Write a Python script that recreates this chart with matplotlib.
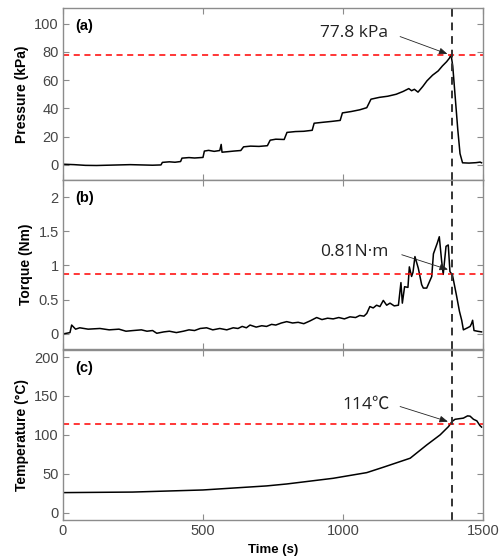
import numpy as np
import matplotlib
matplotlib.use("Agg")
import matplotlib.pyplot as plt

plt.rcParams['font.family'] = ['Liberation Sans', 'DejaVu Sans']

# pressure trace (s, kPa)
p_t = [0, 40, 80, 120, 160, 200, 240, 280, 320, 350, 355, 380, 400, 420, 425, 450, 470,
       500, 505, 520, 540, 560, 565, 568, 590, 610, 635, 645, 670, 700, 730, 740, 760,
       790, 800, 830, 860, 890, 897, 930, 960, 990, 998, 1030, 1060, 1085, 1100, 1130,
       1160, 1190, 1215, 1235, 1245, 1255, 1268, 1285, 1300, 1320, 1340, 1355, 1370,
       1380, 1386, 1392, 1400, 1410, 1418, 1427, 1450, 1475, 1490, 1495]
p_v = [0.5, 0.2, -0.3, -0.4, -0.2, 0.0, 0.2, 0.0, -0.2, 0.0, 1.8, 2.2, 1.9, 2.4, 4.8, 5.2,
       4.9, 5.3, 9.8, 10.3, 9.6, 10.2, 14.5, 9.0, 9.4, 9.8, 10.2, 12.8, 13.3, 13.1, 13.6,
       17.5, 18.2, 18.0, 23.0, 23.6, 23.8, 24.5, 29.5, 30.2, 30.8, 31.5, 36.8, 37.8, 39.0,
       40.5, 46.5, 47.8, 48.6, 50.0, 52.0, 54.0, 52.5, 53.5, 51.5, 55.5, 59.5, 63.5, 66.5,
       70.0, 73.0, 75.5, 78.0, 70.0, 50.0, 25.0, 8.0, 1.5, 1.3, 1.6, 2.0, 1.5]

# torque trace (s, Nm), panel (b)
q_t = [0, 25, 31, 45, 60, 90, 132, 165, 200, 225, 251, 280, 300, 320, 335, 360, 380, 405,
       430, 450, 470, 490, 513, 535, 560, 585, 608, 625, 640, 655, 668, 690, 710, 727, 745,
       760, 780, 799, 820, 840, 860, 882, 906, 925, 945, 965, 985, 1005, 1025, 1045, 1060,
       1075, 1085, 1096, 1108, 1120, 1132, 1144, 1156, 1168, 1183, 1198,
       1207, 1212, 1220, 1232, 1237, 1245, 1250, 1257, 1269, 1281, 1287, 1299, 1317, 1323,
       1337, 1344, 1352, 1358, 1368, 1376, 1382, 1391, 1405, 1416, 1424, 1430, 1445, 1454,
       1459, 1463, 1468, 1480, 1495]
q_v = [0.0, 0.02, 0.13, 0.07, 0.09, 0.07, 0.08, 0.06, 0.07, 0.04, 0.05, 0.06, 0.04, 0.05,
       0.01, 0.03, 0.04, 0.02, 0.04, 0.06, 0.05, 0.08, 0.09, 0.06, 0.08, 0.06, 0.09, 0.08,
       0.11, 0.09, 0.13, 0.10, 0.12, 0.11, 0.14, 0.13, 0.16, 0.18, 0.16, 0.17, 0.15, 0.19,
       0.24, 0.21, 0.23, 0.22, 0.24, 0.22, 0.25, 0.24, 0.27, 0.26, 0.30, 0.40, 0.38, 0.42,
       0.40, 0.49, 0.42, 0.45, 0.41, 0.42, 0.75, 0.45, 0.69, 0.68, 0.98, 0.84, 0.90, 1.13,
       0.96, 0.72, 0.67, 0.67, 0.84, 1.17, 1.33, 1.42, 1.08, 0.87, 1.28, 1.30, 0.91, 0.86,
       0.57, 0.33, 0.20, 0.06, 0.09, 0.11, 0.15, 0.20, 0.05, 0.04, 0.03]

# temperature trace (s, degC), panel (c)
c_t = [0, 248, 500, 727, 799, 965, 1085, 1144, 1240, 1299, 1347, 1377, 1389, 1400, 1430,
       1445, 1454, 1466, 1478, 1489, 1495]
c_v = [25.8, 26.5, 29.2, 34.4, 36.9, 44.2, 51.5, 58.4, 70.0, 87.0, 100.0, 110.7, 117.0,
       120.0, 121.5, 124.4, 124.0, 120.0, 118.0, 112.0, 110.0]

t_cut = 1388
refs = [78, 0.88, 114]
notes = ["77.8 kPa", "0.81N·m", "114℃"]
tags = ["(a)", "(b)", "(c)"]
ylabels = ["Pressure (kPa)", "Torque (Nm)", "Temperature (°C)"]
yticks = [[0, 20, 40, 60, 80, 100], [0, 0.5, 1, 1.5, 2], [0, 50, 100, 150, 200]]
yticklabels = [["0", "20", "40", "60", "80", "100"], ["0", "0.5", "1", "1.5", "2"],
               ["0", "50", "100", "150", "200"]]
ylims = [(-10.6, 111), (-0.22, 2.25), (-9.4, 209)]
xticks = [0, 500, 1000, 1500]

# annotation text centre, arrow tail, arrow tip (data coords)
note_xy = [(1039, 93.6), (1039, 1.19), (1081, 138.6)]
tail_xy = [(1204, 90.8), (1210, 1.157), (1204, 136.4)]
tip_xy = [(1373, 78.5), (1375, 0.94), (1375, 117)]

fig = plt.figure(figsize=(5.03, 5.57), dpi=100)
boxes = [[0.1252, 0.677, 0.835, 0.3086], [0.1252, 0.3734, 0.835, 0.3036],
         [0.1252, 0.0664, 0.835, 0.3052]]
series = [(p_t, p_v), (q_t, q_v), (c_t, c_v)]

edge = '#8c8c8c'
for i in range(3):
    ax = fig.add_axes(boxes[i])
    t, v = series[i]
    ax.plot(t, v, color='black', lw=1.1)
    ax.axhline(refs[i], color='red', ls=(0, (4, 3)), lw=1.1)
    ax.axvline(t_cut, color='#333333', ls=(0, (4, 3)), lw=1.4)
    ax.set_xlim(0, 1500)
    ax.set_ylim(*ylims[i])
    ax.set_xticks(xticks)
    ax.set_yticks(yticks[i])
    ax.set_yticklabels(yticklabels[i])
    if i < 2:
        ax.set_xticklabels([])
    else:
        ax.set_xlabel("Time (s)", fontsize=9.5, fontweight='bold', labelpad=4)
    ax.tick_params(direction='in', length=4, width=0.8, color=edge, labelcolor='#454545',
                   labelsize=10.5, top=True, right=True, pad=3)
    for s in ax.spines.values():
        s.set_color(edge)
        s.set_linewidth(1.0)
    ax.set_ylabel(ylabels[i], fontsize=10, fontweight='bold', labelpad=4)
    ax.text(0.03, 0.895, tags[i], transform=ax.transAxes, fontsize=10.5,
            fontweight='bold', va='center', ha='left')
    ax.annotate("", xy=tip_xy[i], xytext=tail_xy[i],
                arrowprops=dict(arrowstyle='-|>,head_length=0.5,head_width=0.2',
                                color='#222222', lw=0.6, shrinkA=0, shrinkB=0))
    ax.text(note_xy[i][0], note_xy[i][1], notes[i], ha='center', va='center',
            fontsize=12.5, color='#222222',
            family=['Open Sans', 'Noto Sans CJK KR', 'DejaVu Sans'])

fig.align_ylabels(fig.axes)
fig.savefig("out.png", dpi=100)
